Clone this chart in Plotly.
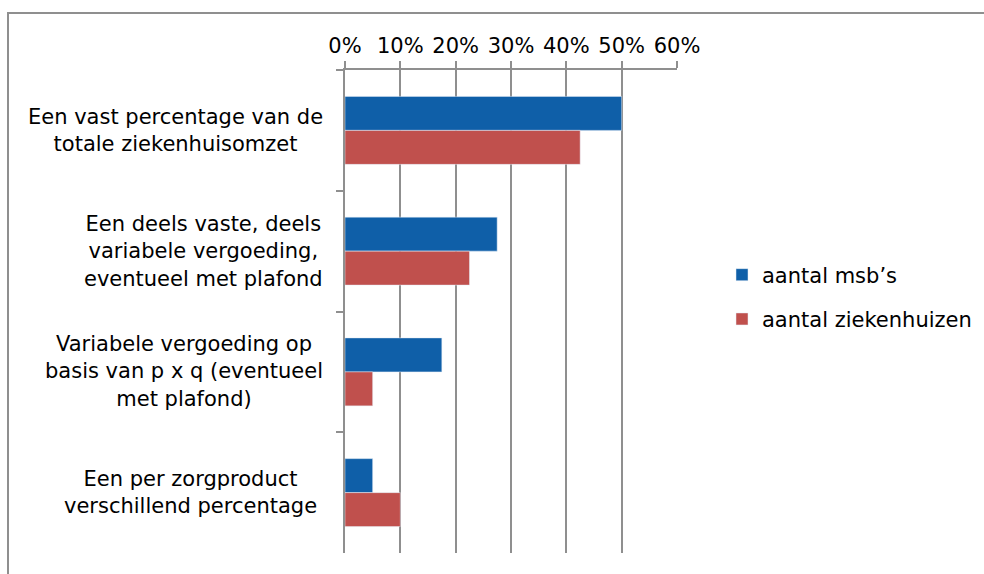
import plotly.graph_objects as go

categories = [
    "Een vast percentage van de<br>totale ziekenhuisomzet",
    "Een deels vaste, deels<br>variabele vergoeding,<br>eventueel met plafond",
    "Variabele vergoeding op<br>basis van p x q (eventueel<br>met plafond)",
    "Een per zorgproduct<br>verschillend percentage",
]
cat_keys = ["c1", "c2", "c3", "c4"]
msb_values = [0.50, 0.275, 0.175, 0.05]
zkh_values = [0.425, 0.225, 0.05, 0.10]
series_names = ["aantal msb\u2019s", "aantal ziekenhuizen"]
series_colors = ["#0F5FA8", "#C0504D"]
x_ticks = [0, 0.1, 0.2, 0.3, 0.4, 0.5, 0.6]

FONT = "DejaVu Sans"
FS = 21
GRID = "#8F8F8F"
label_shifts = [-20, -20, -20, -26]

fig = go.Figure()
fig.add_trace(go.Bar(y=cat_keys, x=msb_values, orientation="h", name=series_names[0],
                     marker=dict(color=series_colors[0]), legendgroup="a"))
fig.add_trace(go.Bar(y=cat_keys, x=zkh_values, orientation="h", name=series_names[1],
                     marker=dict(color=series_colors[1]), legendgroup="b"))

annotations = []
for key, label, sh in zip(cat_keys, categories, label_shifts):
    annotations.append(dict(
        x=0, xref="paper", y=key, yref="y", text=label, showarrow=False,
        xanchor="right", yanchor="middle", align="center", xshift=sh,
        font=dict(family=FONT, size=FS, color="#000000"),
    ))

L, R, T, B = 345, 307, 70, 21
W, H = 984, 574
pw, ph = W - L - R, H - T - B

fig.update_layout(
    width=W, height=H,
    margin=dict(l=L, r=R, t=T, b=B, autoexpand=False),
    paper_bgcolor="white", plot_bgcolor="white",
    barmode="group", bargap=0.437, bargroupgap=0,
    font=dict(family=FONT, size=FS, color="#000000"),
    showlegend=True,
    legend=dict(
        x=(722 - L) / pw, xanchor="left",
        y=(H - B - 297) / ph, yanchor="middle",
        traceorder="grouped", tracegroupgap=14,
        font=dict(family=FONT, size=FS, color="#000000"),
        bgcolor="rgba(0,0,0,0)",
    ),
    xaxis=dict(
        side="top", range=[0, 0.6], tickvals=x_ticks, tickformat=".0%",
        showgrid=True, gridcolor=GRID, gridwidth=1.5,
        showline=True, linecolor=GRID, linewidth=1.5,
        ticks="outside", ticklen=7, tickcolor=GRID, tickwidth=1.5,
        zeroline=False, fixedrange=True,
        tickfont=dict(family=FONT, size=FS, color="#000000"),
    ),
    yaxis=dict(
        type="category", autorange="reversed", showticklabels=False,
        showline=True, linecolor=GRID, linewidth=1.5,
        ticks="outside", ticklen=7, tickcolor=GRID, tickwidth=1.5,
        tickson="boundaries", showgrid=False, zeroline=False, fixedrange=True,
    ),
    annotations=annotations,
    shapes=[dict(
        type="rect", xref="paper", yref="paper",
        x0=(8 - L) / pw, x1=(W + 10 - L) / pw,
        y0=(H - B - (H + 10)) / ph, y1=(H - B - 13) / ph,
        line=dict(color="#8F8F8F", width=2), fillcolor="rgba(0,0,0,0)",
        layer="below",
    )],
)

fig.write_html(
    "out.html",
    config={"displayModeBar": False},
    post_script="document.body.style.margin='0';document.body.style.padding='0';document.body.style.overflow='hidden';",
)
